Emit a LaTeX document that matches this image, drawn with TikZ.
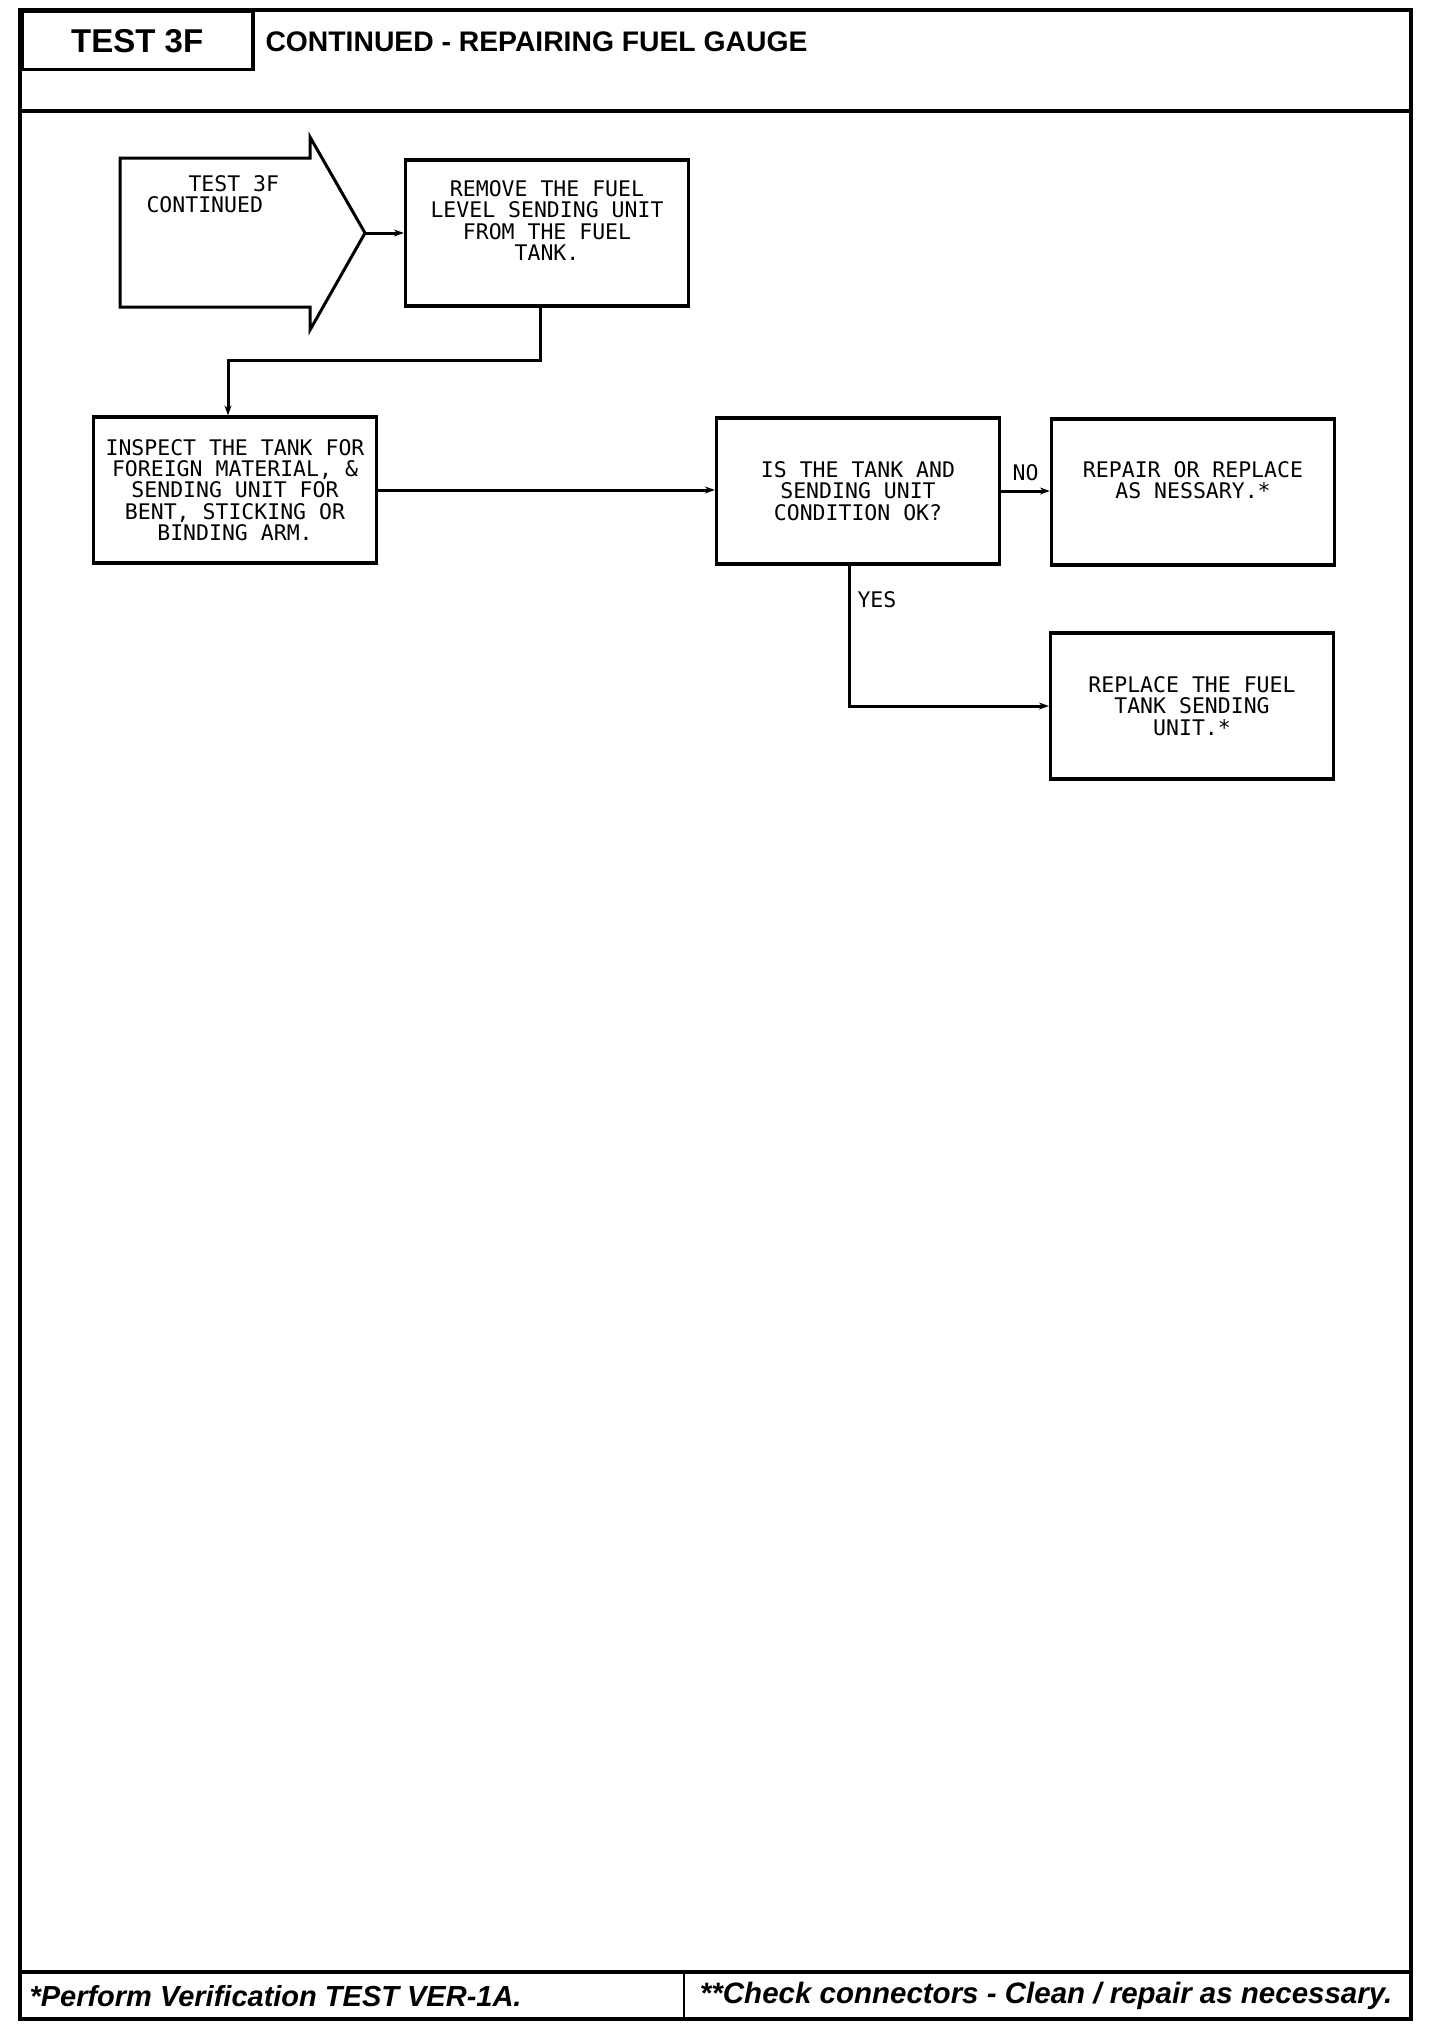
\documentclass[tikz,border=0pt]{standalone}
\usepackage{fontspec}
\setmainfont{Liberation Sans}
\setmonofont{DejaVu Sans Mono}
\usetikzlibrary{arrows.meta, positioning}

\newcommand{\plotfont}{\ttfamily\fontsize{21.5}{21.2}\selectfont}

\tikzset{
  box/.style={draw, line width=3.2pt, minimum width=283, minimum height=146,
    align=center, font=\plotfont, text depth=0pt},
  conn/.style={line width=3pt, -{Stealth[length=10pt,width=7pt]}},
  tag/.style={font=\plotfont, inner sep=3pt},
}

\begin{document}
\begin{tikzpicture}[x=1pt, y=-1pt]
  \useasboundingbox (0,0) rectangle (1440,2034);
  % Page frame
  \draw[line width=3.5pt] (20,10) rectangle (1411,2019);
  \draw[line width=3.5pt] (20,111) -- (1411,111);
  \draw[line width=3.5pt] (20,1972) -- (1411,1972);
  \draw[line width=2pt] (684,1972) -- (684,2019);
  % Heading
  \node[draw, line width=3.5pt, anchor=north west, minimum width=231, minimum height=58,
        font=\bfseries\fontsize{33}{33}\selectfont] (testno) at (20,10) {TEST 3F};
  \node[anchor=west, font=\bfseries\fontsize{28.3}{28.3}\selectfont] (title) at (262,42)
       {CONTINUED - REPAIRING FUEL GAUGE};
  % Entry arrow
  \draw[line width=3pt] (120,158) -- (310,158) -- (310,137) -- (365,233)
       -- (310,330) -- (310,307) -- (120,307) -- cycle;
  \node[font=\plotfont, align=left, anchor=north west] (start) at (143,172)
       {\hspace*{42pt}TEST 3F\\CONTINUED};
  \coordinate (start tip) at (365,233);
  % Steps
  \node[box, text depth=25pt] (remove) at (547,233)
       {REMOVE THE FUEL\\LEVEL SENDING UNIT\\FROM THE FUEL\\TANK.};
  \node[box] (inspect) at (235,490)
       {INSPECT THE TANK FOR\\FOREIGN MATERIAL, \&\\SENDING UNIT FOR\\BENT, STICKING OR\\BINDING ARM.};
  \node[box] (check) at (858,491)
       {IS THE TANK AND\\SENDING UNIT\\CONDITION OK?};
  \node[box, text depth=24pt] (repair) at (1193,492)
       {REPAIR OR REPLACE\\AS NESSARY.*};
  \node[box] (replace) at (1192,706)
       {REPLACE THE FUEL\\TANK SENDING\\UNIT.*};
  % Connectors
  \draw[conn] (start tip) -- (remove.west);
  \draw[conn] ([xshift=-7]remove.south) -- ++(0,53) -| ([xshift=-7]inspect.north);
  \draw[conn] (inspect.east) -- (inspect.east -| check.west);
  \draw[conn] (check.east) -- node[tag, above=6pt] {NO} (check.east -| repair.west);
  \draw[conn] ([xshift=-9]check.south) |- node[tag, right=4pt, pos=0.12] {YES} (replace.west);
  % Footnotes
  \node[anchor=west, font=\bfseries\itshape\fontsize{29}{29}\selectfont] (note1) at (26,1996)
       {*Perform Verification TEST VER-1A.};
  \node[anchor=east, font=\bfseries\itshape\fontsize{29.5}{29.5}\selectfont] (note2) at (1396,1996)
       {**Check connectors - Clean / repair as necessary.};
\end{tikzpicture}
\end{document}
